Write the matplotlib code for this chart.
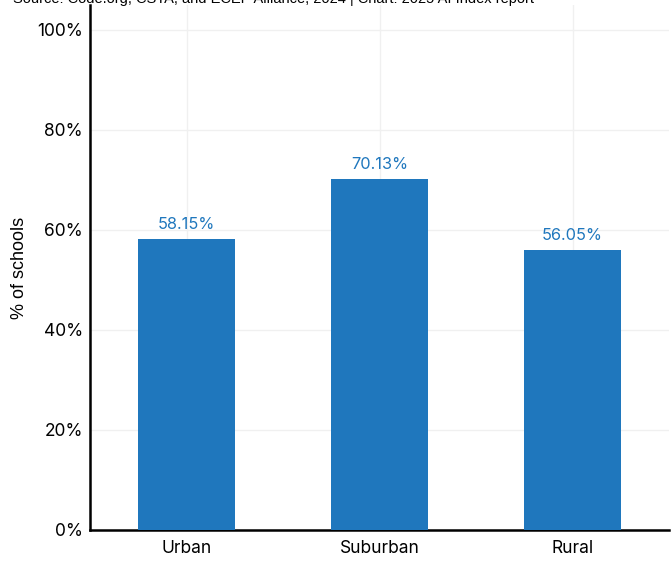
import matplotlib
matplotlib.use("Agg")
import matplotlib.pyplot as plt
from matplotlib.ticker import PercentFormatter

categories = ["Urban", "Suburban", "Rural"]
shares = [0.5815, 0.7013, 0.5605]
yticks = [0, 0.2, 0.4, 0.6, 0.8, 1.0]
source = "Source: Code.org, CSTA, and ECEP Alliance, 2024 | Chart: 2025 AI Index report"

blue = "#1f77bd"

fig = plt.figure(figsize=(6.71, 5.61), dpi=100)
ax = fig.add_axes([90/671, 31/561, 579/671, 525/561])

x = range(len(categories))
bars = ax.bar(x, shares, width=0.5, color=blue, zorder=3)

for xi, v in zip(x, shares):
    ax.annotate(f"{v*100:.2f}%", (xi, v), xytext=(0, 5), textcoords="offset points",
                ha="center", va="bottom", color=blue, fontsize=11.8, family="Inter")

ax.set_xlim(-0.5, 2.5)
ax.set_ylim(0, 1.05)
ax.set_xticks(list(x))
ax.set_xticklabels(categories)
ax.set_yticks(yticks)
ax.yaxis.set_major_formatter(PercentFormatter(1.0, decimals=0))
ax.tick_params(length=0, labelsize=12.5, pad=5)
ax.tick_params(axis="x", pad=7)
for lab in ax.get_xticklabels() + ax.get_yticklabels():
    lab.set_family("Inter")

ax.grid(True, color="#f0f0f0", linewidth=1, zorder=0)
ax.set_axisbelow(True)
for s in ["top", "right"]:
    ax.spines[s].set_visible(False)
for s in ["left", "bottom"]:
    ax.spines[s].set_linewidth(1.8)
    ax.spines[s].set_color("black")

ax.set_ylabel("% of schools", fontsize=13, family="Liberation Sans")
ax.yaxis.set_label_coords(-62/579, 0.5)

fig.text(13/671, 1 - 3/561, source, ha="left", va="baseline", fontsize=10.5,
         family="Liberation Sans")

fig.savefig("out.png", dpi=100)
